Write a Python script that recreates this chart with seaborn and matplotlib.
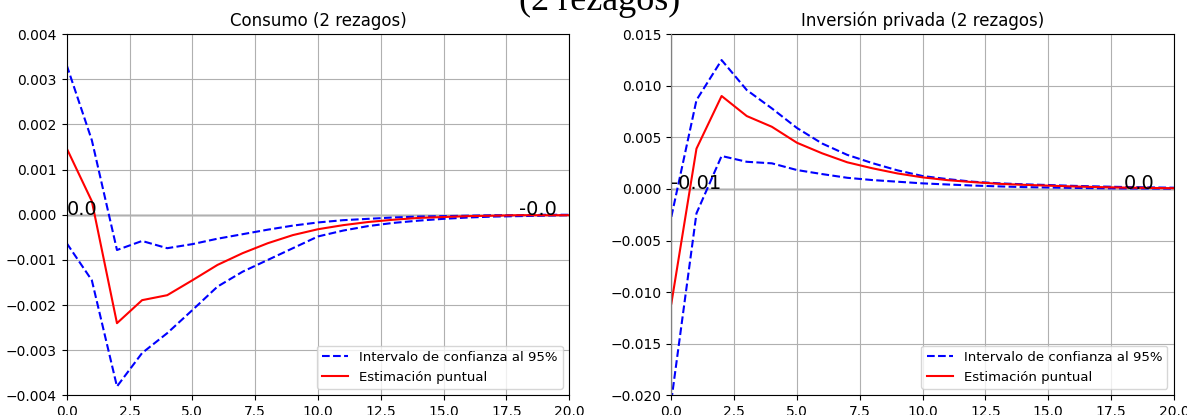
"""
Impulse responses (2 lags): consumption and private investment
"""

import matplotlib
matplotlib.use("Agg")
import matplotlib.pyplot as plt
import seaborn as sns

# -----------------------------
# Data
# -----------------------------
HORIZON = list(range(21))

CONSUMO_EST = [0.00147, 0.0003, -0.0024, -0.00189, -0.00178, -0.00145, -0.00111,
               -0.00085, -0.00063, -0.00045, -0.00032, -0.00023, -0.00016, -0.00011,
               -0.00007, -0.00005, -0.00003, -0.00002, -0.00001, -0.00001, -0.00001]
CONSUMO_UP = [0.00331, 0.00165, -0.00078, -0.00058, -0.00074, -0.00065, -0.00053,
              -0.00043, -0.00033, -0.00024, -0.00017, -0.00012, -0.00009, -0.00006,
              -0.00004, -0.00003, -0.00002, -0.00001, -0.00001, 0.0, 0.0]
CONSUMO_LOW = [-0.00063, -0.00145, -0.0038, -0.00306, -0.00262, -0.00211, -0.00159,
               -0.00126, -0.001, -0.00074, -0.00048, -0.00035, -0.00025, -0.00018,
               -0.00013, -0.00009, -0.00006, -0.00004, -0.00003, -0.00002, -0.00001]

INVERSION_EST = [-0.0111, 0.0039, 0.0090, 0.00706, 0.00602, 0.00447, 0.00345,
                 0.00258, 0.002, 0.0015, 0.00112, 0.00085, 0.00066, 0.0005,
                 0.0004, 0.00032, 0.00024, 0.00018, 0.00013, 0.0001, 0.00007]
INVERSION_UP = [-0.0027, 0.0086, 0.01248, 0.00958, 0.0078, 0.0059, 0.0044,
                0.0033, 0.0025, 0.0018, 0.00125, 0.00095, 0.0007, 0.00055,
                0.00045, 0.00038, 0.0003, 0.00024, 0.00019, 0.00015, 0.00012]
INVERSION_LOW = [-0.0205, -0.00236, 0.00319, 0.00263, 0.00248, 0.00183, 0.00144,
                 0.00108, 0.00086, 0.0007, 0.00054, 0.00043, 0.00033, 0.00025,
                 0.00018, 0.00014, 0.0001, 0.00007, 0.00005, 0.00004, 0.00003]

TITLES = ["Consumo (2 rezagos)", "Inversión privada (2 rezagos)"]
YLIMS = [(-0.004, 0.004), (-0.020, 0.015)]
LABEL_CI = "Intervalo de confianza al 95%"
LABEL_EST = "Estimación puntual"


def plot_irf(ax, est, up, low, title, ylim, vline=False):
    ax.axhline(0, color="lightgray", lw=2, zorder=1)
    if vline:
        ax.axvline(0, color="gray", lw=1.6, zorder=3)
    sns.lineplot(x=HORIZON, y=up, ax=ax, color="b", linestyle="--", label=LABEL_CI)
    sns.lineplot(x=HORIZON, y=low, ax=ax, color="b", linestyle="--", label="_nolegend_")
    sns.lineplot(x=HORIZON, y=est, ax=ax, color="r", label=LABEL_EST)

    ax.text(0, 0, str(round(est[0], 2)), fontsize=14)
    ax.text(18, 0, str(round(est[-1], 2)), fontsize=14)

    ax.set_xlim(0, 20)
    ax.set_ylim(*ylim)
    ax.set_title(title)
    ax.grid(True)
    ax.legend(loc="lower right", fontsize=9.5)


fig, axes = plt.subplots(1, 2, figsize=(11.87, 4.15), dpi=100)
fig.subplots_adjust(left=0.0562, right=0.989, bottom=0.047, top=0.918, wspace=0.203)

plot_irf(axes[0], CONSUMO_EST, CONSUMO_UP, CONSUMO_LOW, TITLES[0], YLIMS[0])
plot_irf(axes[1], INVERSION_EST, INVERSION_UP, INVERSION_LOW, TITLES[1], YLIMS[1], vline=True)

# suptitle sits partly above the top edge, as in the reference
fig.text(0.505, 0.976, "(2 rezagos)", ha="center", va="baseline",
         fontsize=26, family=["Liberation Serif", "DejaVu Serif"])

fig.savefig("out.png", dpi=100)
